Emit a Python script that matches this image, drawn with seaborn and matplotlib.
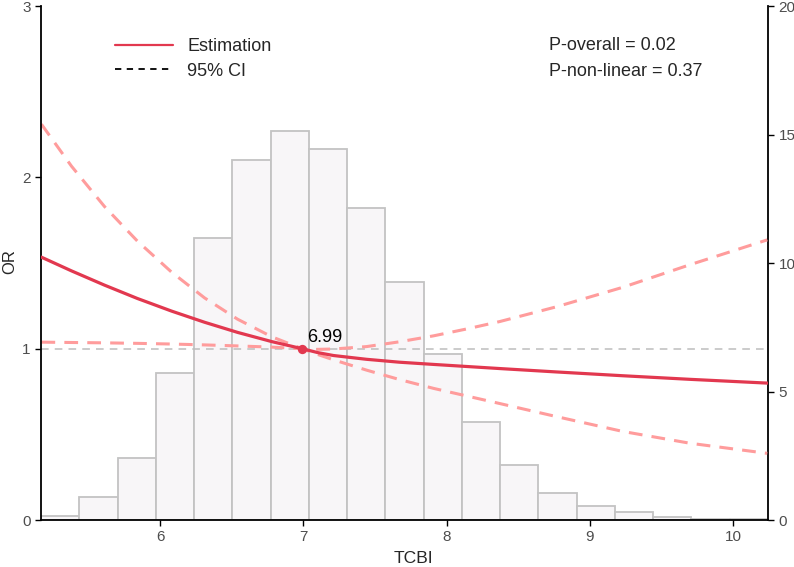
import pandas as pd
import seaborn as sns
from matplotlib import pyplot as plt
from matplotlib.lines import Line2D

# histogram of TCBI (right axis)
tcbi_min = 5.167
tcbi_max = 10.245
hist_heights = [0.17, 0.91, 2.4, 5.72, 10.96, 14.0, 15.13, 14.42, 12.15, 9.27,
                6.47, 3.83, 2.14, 1.04, 0.55, 0.33, 0.13, 0.05, 0.05]

# restricted cubic spline estimate (left axis, OR)
tcbi_grid = [5.17, 5.38, 5.61, 5.84, 6.08, 6.31, 6.54, 6.78, 6.99, 7.10,
             7.21, 7.44, 7.67, 7.91, 8.14, 8.37, 8.77, 9.23, 9.70, 10.24]
or_est = [1.534, 1.454, 1.371, 1.293, 1.219, 1.154, 1.095, 1.041, 1.0, 0.977,
          0.96, 0.938, 0.921, 0.908, 0.896, 0.884, 0.864, 0.842, 0.821, 0.799]
ci_a = [1.038, 1.036, 1.034, 1.031, 1.027, 1.022, 1.016, 1.009, 1.0, 0.996,
        0.998, 1.012, 1.04, 1.075, 1.115, 1.158, 1.245, 1.358, 1.49, 1.635]
ci_b = [2.31, 2.065, 1.83, 1.628, 1.446, 1.296, 1.172, 1.069, 1.0, 0.966,
        0.935, 0.875, 0.82, 0.768, 0.724, 0.68, 0.603, 0.517, 0.448, 0.389]

ref_x = 6.99
ref_or = 1.0
p_overall = "0.02"
p_nonlinear = "0.37"

sns.set_style("ticks")
plt.rcParams['font.family'] = ['Liberation Sans', 'DejaVu Sans']

red = "#E2384F"
ci_col = "#FF9C9C"

fig = plt.figure(figsize=(7.94, 5.67), dpi=100)
ax = fig.add_axes([41/794, 47/567, 727/794, 514/567])
ax2 = ax.twinx()

nbins = len(hist_heights)
bw = (tcbi_max - tcbi_min) / nbins
hist_df = pd.DataFrame({
    "tcbi": [tcbi_min + bw * (i + 0.5) for i in range(nbins)],
    "pct": hist_heights,
})
sns.histplot(data=hist_df, x="tcbi", weights="pct", bins=nbins,
             binrange=(tcbi_min, tcbi_max), ax=ax2,
             facecolor="#F8F6F8", edgecolor="#C3C3C3", linewidth=1.3, alpha=1)
ax2.set_ylim(0, 20)
ax2.set_yticks([0, 5, 10, 15, 20])
ax2.set_ylabel("")

# lines on top of histogram
ax.set_zorder(ax2.get_zorder() + 1)
ax.patch.set_visible(False)

ax.axhline(ref_or, color="#BDBDBD", lw=1.1, ls=(0, (5, 4)), zorder=1)
sns.lineplot(x=tcbi_grid, y=ci_a, ax=ax, color=ci_col, lw=2.2,
             ls=(0, (4.5, 3)), zorder=2)
sns.lineplot(x=tcbi_grid, y=ci_b, ax=ax, color=ci_col, lw=2.2,
             ls=(0, (4.5, 3)), zorder=2)
sns.lineplot(x=tcbi_grid, y=or_est, ax=ax, color=red, lw=2.3, zorder=3)
ax.scatter([ref_x], [ref_or], s=45, color=red, zorder=4, linewidths=0)
ax.annotate(f"{ref_x:.2f}", (ref_x, ref_or), xytext=(3.5, 5),
            textcoords="offset points", fontsize=13, color="black")

ax.set_xlim(tcbi_min, tcbi_max)
ax.set_ylim(0, 3)
ax.set_yticks([0, 1, 2, 3])
ax.set_xticks([6, 7, 8, 9, 10])
ax.set_xlabel("TCBI", fontsize=12.6)
ax.set_ylabel("OR", fontsize=12)
ax.xaxis.set_label_coords(0.512, -0.061)
ax.yaxis.set_label_coords(-0.033, 0.503)

for a in (ax, ax2):
    a.tick_params(labelsize=11, labelcolor="#4D4D4D", color="black",
                  length=4, width=1)
    for s in a.spines.values():
        s.set_color("black")
        s.set_linewidth(1.3)
    a.spines["top"].set_visible(False)
ax.spines["right"].set_visible(False)
ax2.spines["left"].set_visible(False)
ax2.spines["bottom"].set_visible(False)

handles = [Line2D([], [], color=red, lw=1.6),
           Line2D([], [], color="black", lw=1.3, ls=(0, (3.5, 3)))]
ax.legend(handles, ["Estimation", "95% CI"], loc="upper left",
          bbox_to_anchor=(0.1018, 0.938), frameon=False, fontsize=13,
          handlelength=3.2, handletextpad=0.81, labelspacing=0.44,
          borderpad=0, borderaxespad=0)

ax.text(0.699, 0.924, f"P-overall = {p_overall}", transform=ax.transAxes,
        fontsize=13, va="center")
ax.text(0.699, 0.8735, f"P-non-linear = {p_nonlinear}", transform=ax.transAxes,
        fontsize=13, va="center")

plt.savefig("out.png", dpi=100)
plt.close()
